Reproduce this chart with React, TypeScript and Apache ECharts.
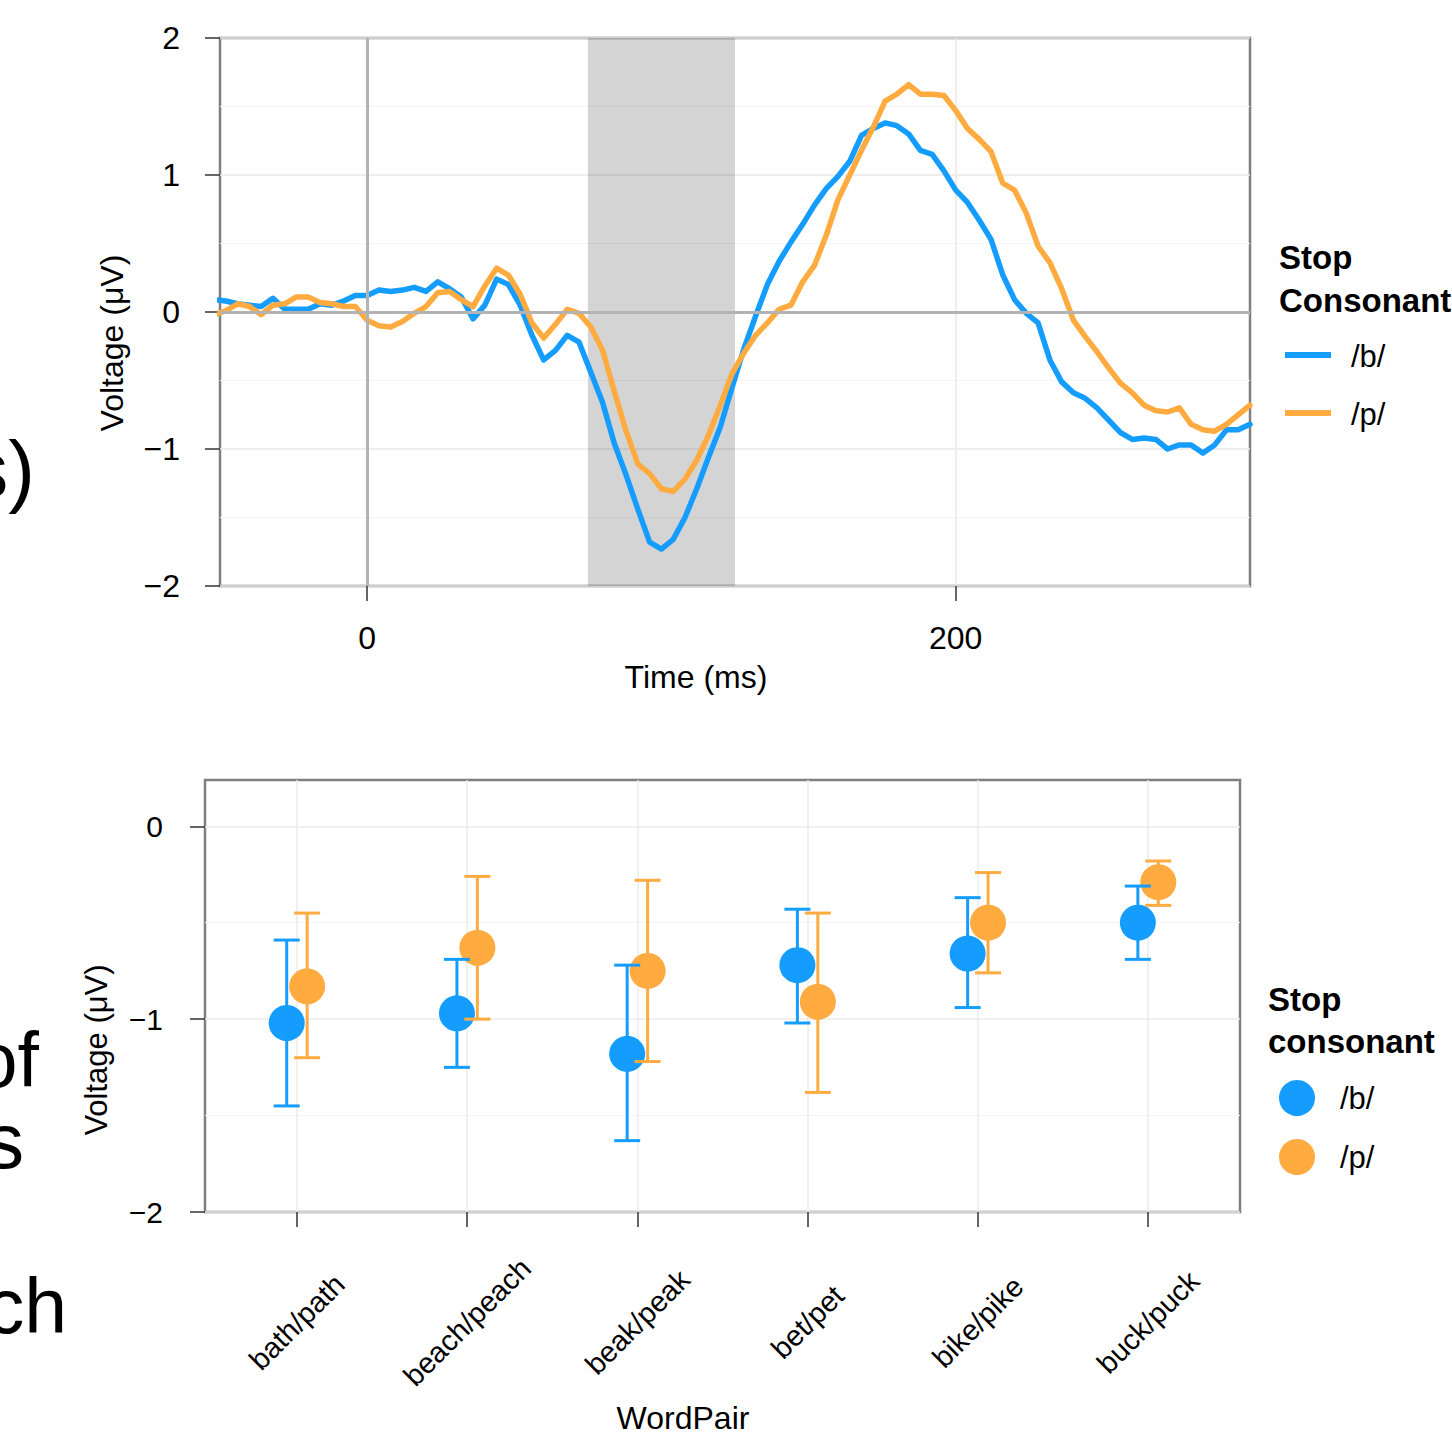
import React, { useEffect, useRef } from "react";
import * as echarts from "echarts";

// ---------- Top panel: ERP waveform ----------
const timeMs = [
  -52, -48, -44, -40, -36, -32, -28, -24, -20, -16, -12, -8, -4, 0, 4, 8, 12, 16, 20, 24, 28, 32, 36, 40,
  44, 48, 52, 56, 60, 64, 68, 72, 76, 80, 84, 88, 92, 96, 100, 104, 108, 112, 116, 120, 124, 128, 132,
  136, 140, 144, 148, 152, 156, 160, 164, 168, 172, 176, 180, 184, 188, 192, 196, 200, 204, 208, 212,
  216, 220, 224, 228, 232, 236, 240, 244, 248, 252, 256, 260, 264, 268, 272, 276, 280, 284, 288, 292,
  296, 300,
];
const voltB = [
  0.09, 0.08, 0.06, 0.05, 0.04, 0.1, 0.02, 0.02, 0.02, 0.06, 0.05, 0.08, 0.12, 0.12, 0.16, 0.15, 0.16,
  0.18, 0.15, 0.22, 0.17, 0.11, -0.05, 0.05, 0.24, 0.2, 0.05, -0.17, -0.35, -0.28, -0.17, -0.22, -0.44,
  -0.66, -0.96, -1.19, -1.44, -1.68, -1.73, -1.66, -1.5, -1.29, -1.06, -0.84, -0.55, -0.27, -0.03, 0.2,
  0.37, 0.51, 0.64, 0.78, 0.9, 0.99, 1.1, 1.29, 1.34, 1.38, 1.36, 1.3, 1.18, 1.15, 1.03, 0.89, 0.8, 0.67,
  0.53, 0.27, 0.09, -0.01, -0.08, -0.35, -0.51, -0.59, -0.63, -0.7, -0.79, -0.88, -0.93, -0.92, -0.93,
  -1.0, -0.97, -0.97, -1.03, -0.97, -0.86, -0.86, -0.82,
];
const voltP = [
  -0.02, 0.01, 0.06, 0.04, -0.02, 0.05, 0.06, 0.11, 0.11, 0.07, 0.06, 0.04, 0.04, -0.06, -0.1, -0.11,
  -0.07, -0.01, 0.04, 0.14, 0.15, 0.09, 0.04, 0.19, 0.32, 0.27, 0.13, -0.08, -0.19, -0.09, 0.02, -0.01,
  -0.11, -0.28, -0.58, -0.87, -1.11, -1.18, -1.29, -1.31, -1.22, -1.08, -0.9, -0.68, -0.45, -0.3, -0.17,
  -0.08, 0.02, 0.05, 0.22, 0.34, 0.56, 0.82, 1.0, 1.18, 1.35, 1.54, 1.59, 1.66, 1.59, 1.59, 1.58, 1.47,
  1.34, 1.26, 1.17, 0.94, 0.89, 0.72, 0.48, 0.36, 0.17, -0.06, -0.18, -0.29, -0.41, -0.52, -0.59, -0.68,
  -0.72, -0.73, -0.7, -0.82, -0.86, -0.87, -0.82, -0.75, -0.68,
];
const shadeWindow = [75, 125];
const erpXTicks = [0, 200];
const erpRefLines = { y: 0, x: 0 };

// ---------- Bottom panel: means with error bars ----------
const wordPairs = ["bath/path", "beach/peach", "beak/peak", "bet/pet", "bike/pike", "buck/puck"];
const meanB = [-1.02, -0.97, -1.18, -0.72, -0.66, -0.5];
const lowB = [-1.45, -1.25, -1.63, -1.02, -0.94, -0.69];
const highB = [-0.59, -0.69, -0.72, -0.43, -0.37, -0.31];
const meanP = [-0.83, -0.63, -0.75, -0.91, -0.5, -0.29];
const lowP = [-1.2, -1.0, -1.22, -1.38, -0.76, -0.41];
const highP = [-0.45, -0.26, -0.28, -0.45, -0.24, -0.18];
const barYTicks = [-2, -1, 0];
const legendLabels = ["/b/", "/p/"];

const BLUE = "#149DFF";
const ORANGE = "#FFAB40";
const FONT = '"Liberation Sans", Arial, Helvetica, sans-serif';

const fmtMinus = (v: number) => (v < 0 ? "\u2212" + Math.abs(v) : String(v));

export default function App() {
  const ref = useRef<HTMLDivElement>(null);

  useEffect(() => {
    const chart = echarts.init(ref.current!, null, { renderer: "svg" });
    const DODGE = 0.06;
    const catPos = wordPairs.map((_, i) => i + 1);
    const ptsB = meanB.map((m, i) => [catPos[i] - DODGE, m]);
    const ptsP = meanP.map((m, i) => [catPos[i] + DODGE, m]);
    const barsB = meanB.map((_, i) => [catPos[i] - DODGE, lowB[i], highB[i]]);
    const barsP = meanP.map((_, i) => [catPos[i] + DODGE, lowP[i], highP[i]]);

    const errRender = (color: string) => (params: any, api: any) => {
      const x = api.value(0);
      const lo = api.coord([x, api.value(1)]);
      const hi = api.coord([x, api.value(2)]);
      const cap = 13;
      const st = { stroke: color, lineWidth: 3 };
      return {
        type: "group",
        children: [
          { type: "line", shape: { x1: lo[0], y1: lo[1], x2: hi[0], y2: hi[1] }, style: st },
          { type: "line", shape: { x1: lo[0] - cap, y1: lo[1], x2: lo[0] + cap, y2: lo[1] }, style: st },
          { type: "line", shape: { x1: hi[0] - cap, y1: hi[1], x2: hi[0] + cap, y2: hi[1] }, style: st },
        ],
      };
    };

    const txt = (text: string, x: number, y: number, size: number, extra: any = {}) => ({
      type: "text",
      x,
      y,
      silent: true,
      ...extra,
      style: {
        text,
        fill: "#000",
        fontSize: size,
        fontFamily: FONT,
        align: "left",
        verticalAlign: "middle",
        ...(extra.style || {}),
      },
    });

    const tickStyle = { color: "#333", width: 1.5 };
    const hiddenLine = { show: false, onZero: false };

    const option: any = {
      animation: false,
      backgroundColor: "#ffffff",
      grid: [
        {
          left: 220, top: 38, width: 1030, height: 548, show: true,
          borderColor: "#7f7f7f", borderWidth: 2.5, backgroundColor: "transparent",
          outerBoundsMode: "none", containLabel: false,
        },
        {
          left: 205, top: 780, width: 1035, height: 432, show: true,
          borderColor: "#7f7f7f", borderWidth: 2.5, backgroundColor: "transparent",
          outerBoundsMode: "none", containLabel: false,
        },
      ],
      xAxis: [
        {
          gridIndex: 0, type: "value", min: -50, max: 300, position: "bottom",
          axisLine: hiddenLine,
          axisTick: { show: true, length: 15, customValues: erpXTicks, lineStyle: tickStyle },
          axisLabel: { customValues: erpXTicks, fontSize: 32, color: "#000", fontFamily: FONT, margin: 36 },
          splitLine: { show: true, lineStyle: { color: "#e8e8e8", width: 1.5 } },
        },
        {
          gridIndex: 1, type: "value", min: 0.46, max: 6.54, position: "bottom",
          axisLine: hiddenLine,
          axisTick: { show: true, length: 15, customValues: catPos, lineStyle: tickStyle },
          axisLabel: {
            customValues: catPos,
            formatter: (v: number) => wordPairs[Math.round(v) - 1] ?? "",
            rotate: 45, align: "center", verticalAlign: "middle", margin: 110,
            fontSize: 29, color: "#000", fontFamily: FONT,
          },
          splitLine: { show: true, lineStyle: { color: "#ebebeb", width: 1.5 } },
        },
      ],
      yAxis: [
        {
          gridIndex: 0, type: "value", min: -2, max: 2, interval: 1, position: "left",
          axisLine: hiddenLine,
          axisTick: { show: true, length: 15, lineStyle: tickStyle },
          axisLabel: { formatter: fmtMinus, fontSize: 32, color: "#000", fontFamily: FONT, margin: 40 },
          splitLine: { show: true, lineStyle: { color: "#e8e8e8", width: 1.5 } },
          minorTick: { show: false, splitNumber: 2 },
          minorSplitLine: { show: true, lineStyle: { color: "#f5f5f5", width: 1 } },
        },
        {
          gridIndex: 1, type: "value", min: -2, max: 0.24, interval: 1, position: "left",
          axisLine: hiddenLine,
          axisTick: { show: true, length: 15, customValues: barYTicks, lineStyle: tickStyle },
          axisLabel: { customValues: barYTicks, formatter: fmtMinus, fontSize: 30, color: "#000", fontFamily: FONT, margin: 42 },
          splitLine: { show: true, lineStyle: { color: "#ebebeb", width: 1.5 } },
          minorTick: { show: false, splitNumber: 2 },
          minorSplitLine: { show: true, lineStyle: { color: "#f5f5f5", width: 1 } },
        },
      ],
      series: [
        {
          type: "line", xAxisIndex: 0, yAxisIndex: 0, data: [], z: 1, silent: true,
          markLine: {
            silent: true, symbol: ["none", "none"], label: { show: false },
            lineStyle: { color: "#b3b3b3", width: 3, type: "solid" },
            data: [{ yAxis: erpRefLines.y }, { xAxis: erpRefLines.x }],
          },
        },
        {
          type: "line", xAxisIndex: 0, yAxisIndex: 0, data: [], z: 2, silent: true,
          markArea: {
            silent: true, itemStyle: { color: "rgba(0,0,0,0.17)" },
            data: [[{ xAxis: shadeWindow[0] }, { xAxis: shadeWindow[1] }]],
          },
        },
        {
          name: "/b/", type: "line", xAxisIndex: 0, yAxisIndex: 0, z: 3,
          data: timeMs.map((t, i) => [t, voltB[i]]),
          showSymbol: false, symbol: "none", clip: true,
          lineStyle: { color: BLUE, width: 5.5, join: "round", cap: "round" },
          emphasis: { disabled: true },
        },
        {
          name: "/p/", type: "line", xAxisIndex: 0, yAxisIndex: 0, z: 4,
          data: timeMs.map((t, i) => [t, voltP[i]]),
          showSymbol: false, symbol: "none", clip: true,
          lineStyle: { color: ORANGE, width: 5.5, join: "round", cap: "round" },
          emphasis: { disabled: true },
        },
        {
          type: "scatter", xAxisIndex: 1, yAxisIndex: 1, z: 5, data: ptsB,
          symbol: "circle", symbolSize: 36, itemStyle: { color: BLUE, opacity: 1 },
          emphasis: { disabled: true },
        },
        {
          type: "scatter", xAxisIndex: 1, yAxisIndex: 1, z: 6, data: ptsP,
          symbol: "circle", symbolSize: 36, itemStyle: { color: ORANGE, opacity: 1 },
          emphasis: { disabled: true },
        },
        {
          type: "custom", xAxisIndex: 1, yAxisIndex: 1, z: 7, data: barsB,
          encode: { x: 0, y: [1, 2] }, renderItem: errRender(BLUE), silent: true,
        },
        {
          type: "custom", xAxisIndex: 1, yAxisIndex: 1, z: 8, data: barsP,
          encode: { x: 0, y: [1, 2] }, renderItem: errRender(ORANGE), silent: true,
        },
      ],
      graphic: [
        // axis titles
        txt("Time (ms)", 696, 677, 32, { style: { align: "center" } }),
        txt("WordPair", 683, 1418, 32, { style: { align: "center" } }),
        txt("Voltage (\u03BCV)", 112, 343, 32, { rotation: Math.PI / 2, style: { align: "center" } }),
        txt("Voltage (\u03BCV)", 96, 1050, 31, { rotation: Math.PI / 2, style: { align: "center" } }),
        // top legend
        txt("Stop", 1279, 257, 33, { style: { fontWeight: "bold" } }),
        txt("Consonant", 1279, 300, 33, { style: { fontWeight: "bold" } }),
        { type: "line", silent: true, shape: { x1: 1285, y1: 355, x2: 1331, y2: 355 }, style: { stroke: BLUE, lineWidth: 6 } },
        { type: "line", silent: true, shape: { x1: 1285, y1: 413, x2: 1331, y2: 413 }, style: { stroke: ORANGE, lineWidth: 6 } },
        txt(legendLabels[0], 1351, 356, 31),
        txt(legendLabels[1], 1351, 414, 31),
        // bottom legend
        txt("Stop", 1268, 999, 33, { style: { fontWeight: "bold" } }),
        txt("consonant", 1268, 1041, 33, { style: { fontWeight: "bold" } }),
        { type: "circle", silent: true, shape: { cx: 1297, cy: 1098, r: 18 }, style: { fill: BLUE } },
        { type: "circle", silent: true, shape: { cx: 1297, cy: 1157, r: 18 }, style: { fill: ORANGE } },
        txt(legendLabels[0], 1340, 1098, 31),
        txt(legendLabels[1], 1340, 1157, 31),
        // slide text that the reference shows cut off at the left edge
        txt("s)", 35, 469, 80, { style: { align: "right" } }),
        txt("of", 39, 1060, 77, { style: { align: "right" } }),
        txt("s", 24, 1141, 77, { style: { align: "right" } }),
        txt("ch", 67, 1306, 77, { style: { align: "right" } }),
      ],
    };

    chart.setOption(option);
    return () => chart.dispose();
  }, []);

  return (
    <div
      ref={ref}
      style={{ position: "fixed", left: 0, top: 0, width: 1452, height: 1454, background: "#fff" }}
    />
  );
}
